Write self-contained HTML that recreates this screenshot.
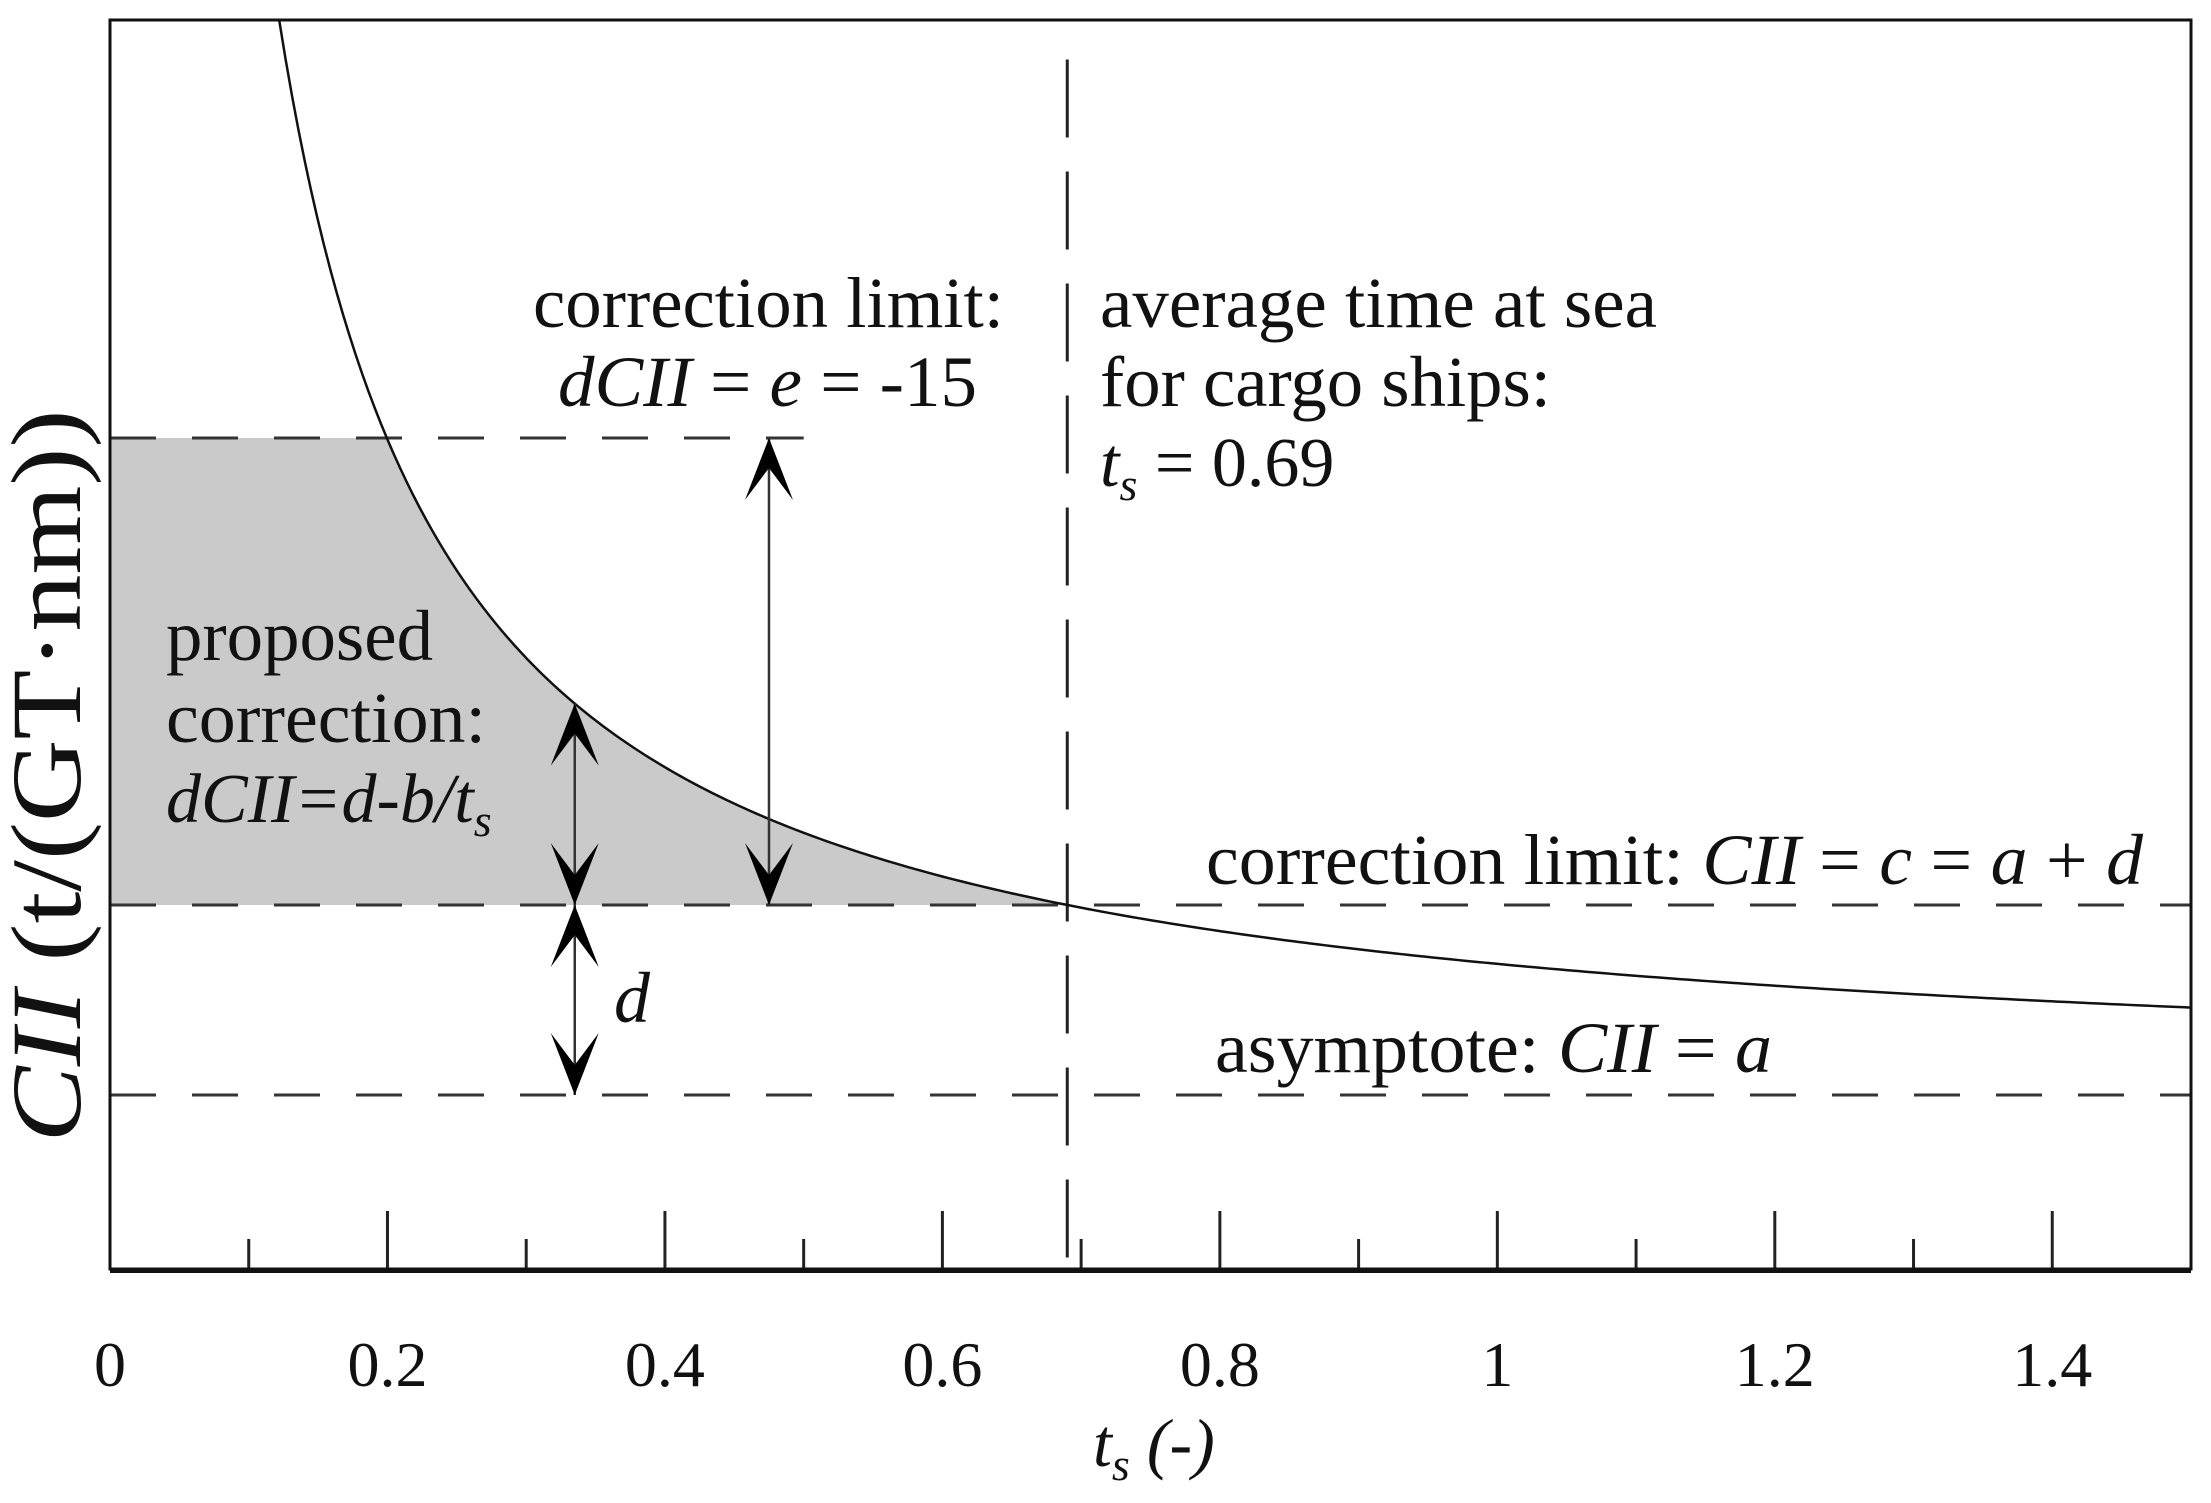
<!DOCTYPE html>
<html><head><meta charset="utf-8"><style>
html,body{margin:0;padding:0;background:#fff;}
svg{display:block;}
text{font-family:"Liberation Serif",serif;fill:#111;}
</style></head><body>
<svg id="chart" width="2211" height="1503" viewBox="0 0 2211 1503" xmlns="http://www.w3.org/2000/svg">
<g id="marks"></g>
<g id="texts" font-size="72">
<text x="533" y="327" textLength="471" lengthAdjust="spacingAndGlyphs">correction limit:</text>
<text x="558" y="406" textLength="419" lengthAdjust="spacingAndGlyphs"><tspan font-style="italic">dCII</tspan> = <tspan font-style="italic">e</tspan> = -15</text>
<text x="1100" y="327" textLength="557" lengthAdjust="spacingAndGlyphs">average time at sea</text>
<text x="1100" y="406" textLength="451" lengthAdjust="spacingAndGlyphs">for cargo ships:</text>
<text x="1100" y="486" font-size="70"><tspan font-style="italic">t</tspan><tspan font-style="italic" font-size="46" dy="14">s</tspan><tspan dy="-14"> = 0.69</tspan></text>
<text x="166" y="660" textLength="267" lengthAdjust="spacingAndGlyphs">proposed</text>
<text x="166" y="742" textLength="320" lengthAdjust="spacingAndGlyphs">correction:</text>
<text x="166" y="822" font-style="italic" font-size="70">dCII=d-b/t<tspan font-size="46" dy="14">s</tspan></text>
<text x="1206" y="884" textLength="937" lengthAdjust="spacingAndGlyphs">correction limit: <tspan font-style="italic">CII</tspan> = <tspan font-style="italic">c</tspan> = <tspan font-style="italic">a</tspan> + <tspan font-style="italic">d</tspan></text>
<text x="614" y="1022" font-style="italic">d</text>
<text x="1215" y="1072" textLength="557" lengthAdjust="spacingAndGlyphs">asymptote: <tspan font-style="italic">CII</tspan> = <tspan font-style="italic">a</tspan></text>
<text x="1093" y="1466" font-style="italic" font-size="68">t<tspan font-size="46" dy="14">s</tspan><tspan dy="-14"> (-)</tspan></text>
<text transform="translate(80,776) rotate(-90)" text-anchor="middle" font-size="100" textLength="733" lengthAdjust="spacingAndGlyphs"><tspan font-style="italic">CII</tspan> (t/(GT·nm))</text>
</g>
</svg>
<script>
const xTicks = [0,0.1,0.2,0.3,0.4,0.5,0.6,0.7,0.8,0.9,1.0,1.1,1.2,1.3,1.4];
const xTickLabels = ["0","0.2","0.4","0.6","0.8","1","1.2","1.4"];
const xLabelValues = [0,0.2,0.4,0.6,0.8,1.0,1.2,1.4];
const asymptoteA = [1.0];
const offsetD = [1.0];
const coefB = [0.69];
const limitUpper = [4.458];
const tsAverage = [0.69];
const arrowT = [0.335, 0.475];

const L=110,R=2191,T=20,B=1269;
const xMin=0,xMax=1.5,yMin=0.084,yMax=6.658;
const X=v=>L+(v-xMin)/(xMax-xMin)*(R-L);
const Y=v=>B-(v-yMin)/(yMax-yMin)*(B-T);
const a=asymptoteA[0],d=offsetD[0],b=coefB[0],c=a+d,up=limitUpper[0],ts=tsAverage[0];
const f=t=>a+b/t;
const NS="http://www.w3.org/2000/svg";
const g=document.getElementById('marks');
function mk(tag,attrs,name){const e=document.createElementNS(NS,tag);for(const k in attrs)e.setAttribute(k,attrs[k]);


g.appendChild(e);return e;}

let tStart=b/(up-a);
let p=`M${X(0)},${Y(c)} L${X(0)},${Y(up)} L${X(tStart)},${Y(up)}`;
for(let i=1;i<=100;i++){const t=tStart+(ts-tStart)*i/100;p+=` L${X(t)},${Y(f(t))}`;}
p+=' Z';
mk('path',{d:p,fill:'#cacaca',stroke:'none'},'proposed-correction-area');

const dash={stroke:'#333','stroke-width':3,'stroke-dasharray':'46 36',fill:'none'};
mk('line',Object.assign({x1:X(0),y1:Y(up),x2:X(0.5),y2:Y(up)},dash),'upper-limit-line');
mk('line',Object.assign({x1:X(0),y1:Y(c),x2:X(1.5),y2:Y(c)},dash),'correction-limit-line');
mk('line',Object.assign({x1:X(0),y1:Y(a),x2:X(1.5),y2:Y(a)},dash),'asymptote-line');
mk('line',{x1:X(ts),y1:Y(6.45),x2:X(ts),y2:B,stroke:'#222','stroke-width':3,'stroke-dasharray':'78 34'},'average-ts-line');

let cp='';const t0=b/(yMax-a);
for(let i=0;i<=300;i++){const t=t0+(xMax-t0)*i/300;cp+=(i?' L':'M')+X(t)+','+Y(f(t));}
mk('path',{d:cp,fill:'none',stroke:'#111','stroke-width':2.5},'cii-curve');

function arrow(t,v1,v2,name){const x=X(t),y1=Y(v1),y2=Y(v2);
mk('line',{x1:x,y1:y1,x2:x,y2:y2,stroke:'#333','stroke-width':2.5},name+'-shaft');
const hw=24,hl=62,n=30;
mk('path',{d:`M${x},${y1} L${x+hw},${y1+hl} L${x},${y1+n} L${x-hw},${y1+hl} Z`,fill:'#000'},name+'-head-top');
mk('path',{d:`M${x},${y2} L${x+hw},${y2-hl} L${x},${y2-n} L${x-hw},${y2-hl} Z`,fill:'#000'},name+'-head-bottom');}
arrow(arrowT[0],f(arrowT[0]),c,'proposed-correction-arrow');
arrow(arrowT[0],c,a,'d-arrow');
arrow(arrowT[1],up,c,'limit-e-arrow');

xTicks.forEach(v=>{const major=Math.round(v*10)%2===0;if(v===0)return;
mk('line',{x1:X(v),y1:B,x2:X(v),y2:B-(major?58:30),stroke:'#222','stroke-width':3},'x-tick');});
mk('rect',{x:L,y:T,width:R-L,height:B-T,fill:'none',stroke:'#111','stroke-width':3},'plot-frame');
mk('line',{x1:L,y1:B+2,x2:R,y2:B+2,stroke:'#111','stroke-width':4},'x-axis');
xLabelValues.forEach((v,i)=>{const e=mk('text',{x:X(v),y:1386,'text-anchor':'middle','font-size':64},'x-tick-label');e.textContent=xTickLabels[i];document.getElementById('chart').appendChild(e);});
</script>
</body></html>
